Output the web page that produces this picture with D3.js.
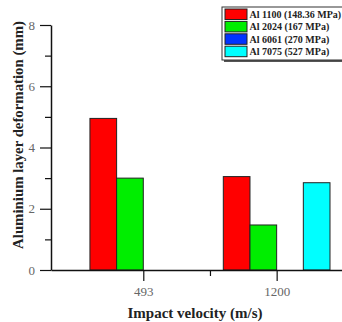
<html>
<head>
<script src="https://d3js.org/d3.v7.min.js"></script>
<style>
  body { margin: 0; background: #fff; }
  text { font-family: "Liberation Serif", "Times New Roman", serif; }
</style>
</head>
<body>
<svg id="chart" width="342" height="322"></svg>
<script>
const velocities = ["493", "1200"];
const seriesNames = ["Al 1100 (148.36 MPa)", "Al 2024 (167 MPa)", "Al 6061 (270 MPa)", "Al 7075 (527 MPa)"];
const seriesColors = ["#ff0000", "#00ee00", "#0033ff", "#00ffff"];
// deformation (mm) per series, one value per velocity
const al1100 = [4.95, 3.05];
const al2024 = [3.0, 1.47];
const al6061 = [0, 0];
const al7075 = [0, 2.85];
const yTicks = [0, 2, 4, 6, 8];

const seriesValues = [al1100, al2024, al6061, al7075];

const svg = d3.select("#chart");
const plotLeft = 51, plotRight = 342, plotTop = 25, plotBottom = 270;

// x in category-index units; each bar takes 0.2 of a category step
const xScale = d3.scaleLinear().domain([-0.692, 1.49]).range([plotLeft, plotRight]);
const yScale = d3.scaleLinear().domain([0, 8]).range([plotBottom, plotTop]);
const barW = 0.2;

const bars = [];
seriesValues.forEach((vals, s) => {
  vals.forEach((v, i) => {
    if (v > 0) bars.push({ s: s, i: i, v: v });
  });
});

svg.append("g").selectAll("rect").data(bars).join("rect")
  .attr("x", d => xScale(d.i - 2 * barW + d.s * barW))
  .attr("y", d => yScale(d.v))
  .attr("width", xScale(barW) - xScale(0))
  .attr("height", d => plotBottom - yScale(d.v))
  .attr("fill", d => seriesColors[d.s])
  .attr("stroke", "#222")
  .attr("stroke-width", 1);

// y axis
const yAxis = svg.append("g")
  .attr("transform", `translate(${plotLeft},0)`)
  .call(d3.axisLeft(yScale).tickValues(yTicks).tickSize(11).tickSizeOuter(0).tickPadding(5));
svg.append("g")
  .attr("transform", `translate(${plotLeft},0)`)
  .call(d3.axisLeft(yScale).tickValues([1, 3, 5, 7]).tickSize(6).tickSizeOuter(0).tickFormat(""))
  .select(".domain").remove();
yAxis.select(".domain").attr("stroke", "#111").attr("stroke-width", 1.5);
yAxis.selectAll("text").attr("font-size", 13).attr("fill", "#666")
  .style("font-family", "Liberation Serif");

// x axis
const xAxis = svg.append("g")
  .attr("transform", `translate(0,${plotBottom})`)
  .call(d3.axisBottom(xScale).tickValues([0, 1]).tickSize(11).tickSizeOuter(0).tickPadding(6)
    .tickFormat(d => velocities[d]));
svg.append("g")
  .attr("transform", `translate(0,${plotBottom})`)
  .call(d3.axisBottom(xScale).tickValues([0.5]).tickSize(6).tickSizeOuter(0).tickFormat(""))
  .select(".domain").remove();
xAxis.select(".domain").attr("stroke", "#111").attr("stroke-width", 1.5);
xAxis.selectAll("text").attr("font-size", 13).attr("fill", "#666")
  .style("font-family", "Liberation Serif");
svg.selectAll(".tick line").attr("stroke", "#111").attr("stroke-width", 1.2);

// titles
svg.append("text")
  .attr("x", 195).attr("y", 318)
  .attr("text-anchor", "middle")
  .attr("font-size", 15).attr("font-weight", "bold").attr("fill", "#222")
  .text("Impact velocity (m/s)");
svg.append("text")
  .attr("transform", "rotate(-90)")
  .attr("x", -135).attr("y", 23)
  .attr("text-anchor", "middle")
  .attr("font-size", 14.8).attr("font-weight", "bold").attr("fill", "#222")
  .text("Aluminium layer deformation (mm)");

// legend
const lg = svg.append("g").attr("transform", "translate(222,7)");
lg.append("rect").attr("x", 2).attr("y", 2).attr("width", 130).attr("height", 53).attr("fill", "#555");
lg.append("rect").attr("x", 0).attr("y", 0).attr("width", 130).attr("height", 53)
  .attr("fill", "#fff").attr("stroke", "#333").attr("stroke-width", 1);
const rows = lg.selectAll("g.row").data(seriesNames).join("g")
  .attr("class", "row")
  .attr("transform", (d, i) => `translate(3,${2 + i * 12.4})`);
rows.append("rect").attr("width", 22).attr("height", 10.5)
  .attr("fill", (d, i) => seriesColors[i]).attr("stroke", "#222").attr("stroke-width", 1);
rows.append("text").attr("x", 24.5).attr("y", 9)
  .attr("font-size", 10).attr("font-weight", "bold").attr("fill", "#222")
  .text(d => d);
</script>
</body>
</html>
